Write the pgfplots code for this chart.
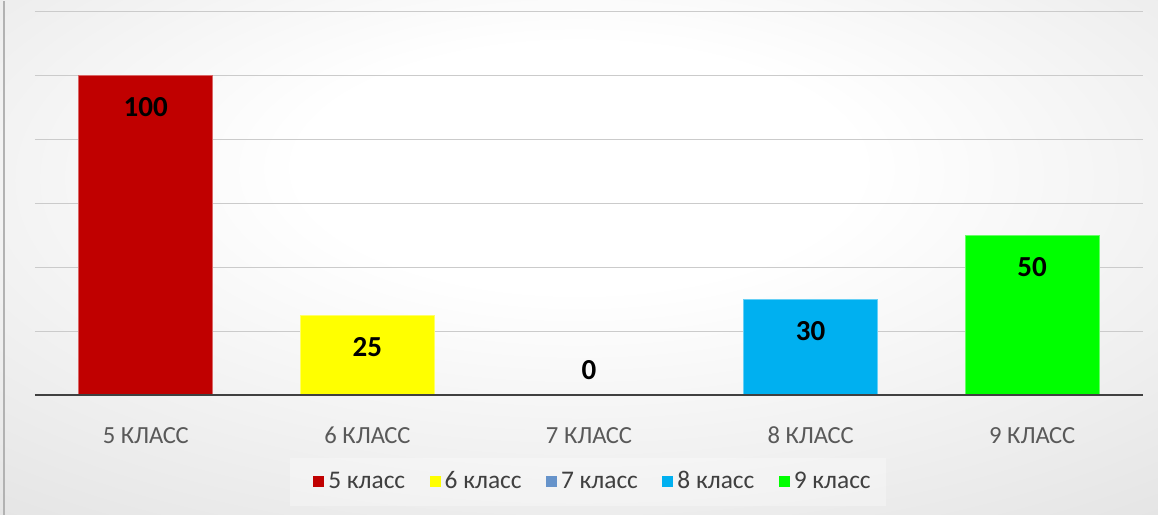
\documentclass[border=0pt]{standalone}
\usepackage{pgfplots}
\pgfplotsset{compat=1.18}
\usepackage{fontspec}
\setmainfont{Carlito}
\definecolor{cA}{HTML}{C00000}
\definecolor{cB}{HTML}{FFFF00}
\definecolor{cC}{HTML}{6693CA}
\definecolor{cD}{HTML}{00B0F0}
\definecolor{cE}{HTML}{00FF00}
\definecolor{axcol}{HTML}{404040}
\definecolor{tickcol}{HTML}{595959}
\definecolor{gridcol}{HTML}{CBCBCB}
\pgfdeclareradialshading{bgshade}{\pgfpoint{0bp}{10bp}}{rgb(0bp)=(1,1,1); rgb(12bp)=(1,1,1); rgb(75bp)=(0.77,0.77,0.77); rgb(100bp)=(0.77,0.77,0.77)}
\begin{document}
\begin{tikzpicture}
\shade[shading=bgshade] (0,0) rectangle (579pt,257pt);
\draw[gray!60, line width=0.6pt] (2pt,0pt) -- (2pt,257pt);
\fill[white, opacity=0.3] (145pt,4.5pt) rectangle (443pt,28.5pt);
\begin{axis}[
  at={(17.5pt,59.5pt)}, anchor=south west,
  scale only axis, width=554pt, height=192pt,
  xmin=0, xmax=5, ymin=0, ymax=120,
  axis line style={draw=none},
  /pgf/number format/assume math mode=true,
  ytick={20,40,60,80,100,120}, yticklabels={},
  ymajorgrids, major grid style={draw=gridcol, line width=0.6pt},
  xtick={0.5,1.5,2.5,3.5,4.5},
  xticklabels={5 КЛАСС,6 КЛАСС,7 КЛАСС,8 КЛАСС,9 КЛАСС},
  tick style={draw=none},
  xticklabel style={anchor=base, yshift=-19.5pt, text=tickcol, font=\fontsize{12.3}{12.3}\selectfont},
  ybar, bar width=67pt, bar shift=0pt,
  legend columns=5,
  legend style={at={(0.5045,-0.224)}, anchor=center, draw=none, fill=none,
    font=\fontsize{12.7}{12.7}\selectfont, text=axcol,
    /tikz/every even column/.append style={column sep=10.25pt}},
  legend image code/.code={\fill[#1, draw=none] (0pt,-2.75pt) rectangle (5.5pt,2.75pt);},
  nodes near coords,
  every node near coord/.append style={anchor=center, yshift=-15.5pt, text=black, font=\bfseries\fontsize{14.5}{14.5}\selectfont},
]
\addplot[fill=cA, draw=cA!60!white, line width=0.5pt] coordinates {(0.5,100)};
\addplot[fill=cB, draw=cB!60!white, line width=0.5pt] coordinates {(1.5,25)};
\addplot[fill=cC, draw=none, every node near coord/.append style={yshift=28.5pt}] coordinates {(2.5,0)};
\addplot[fill=cD, draw=cD!60!white, line width=0.5pt] coordinates {(3.5,30)};
\addplot[fill=cE, draw=cE!60!white, line width=0.5pt] coordinates {(4.5,50)};
\legend{5 класс,6 класс,7 класс,8 класс,9 класс}
\draw[axcol, line width=1.5pt] (rel axis cs:0,0) -- (rel axis cs:1,0);
\end{axis}
\end{tikzpicture}
\end{document}
